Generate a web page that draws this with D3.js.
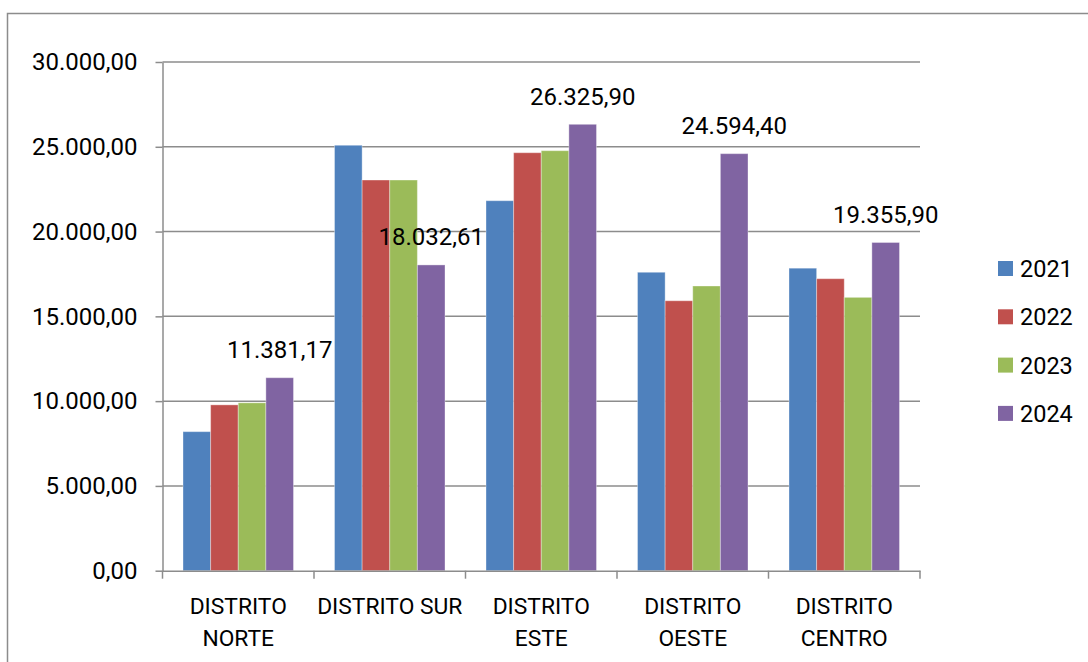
<!DOCTYPE html>
<meta charset="utf-8">
<style>
  body { margin: 0; background: #fff; }
  svg text { font-family: Roboto, 'Noto Sans', sans-serif; fill: #000; }
</style>
<body>
<div id="chart"></div>
<script src="https://d3js.org/d3.v7.min.js"></script>
<script>

// data
var categories = ["DISTRITO NORTE", "DISTRITO SUR", "DISTRITO ESTE", "DISTRITO OESTE", "DISTRITO CENTRO"];
var years = ["2021", "2022", "2023", "2024"];
var v2021 = [8200, 25090, 21820, 17600, 17840];
var v2022 = [9780, 23040, 24650, 15920, 17220];
var v2023 = [9900, 23040, 24770, 16790, 16120];
var v2024 = [11381.17, 18032.61, 26325.90, 24594.40, 19355.90];
var yTicks = [0, 5000, 10000, 15000, 20000, 25000, 30000];
var colors = ["#4F81BD", "#C0504D", "#9BBB59", "#8064A2"];

var series = [v2021, v2022, v2023, v2024];

var W = 1088, H = 662;
// plot area (window.top is reserved, so use other names)
var pLeft = 162.5, pRight = 920, pTop = 62, pBottom = 570.7;

var svg = d3.select("#chart").append("svg")
    .attr("width", W)
    .attr("height", H);

// outer frame (only left and top edges show in the picture)
svg.append("rect")
    .attr("x", 7.5).attr("y", 13.5)
    .attr("width", W + 20).attr("height", H + 20)
    .attr("fill", "none")
    .attr("stroke", "#8c8c8c")
    .attr("stroke-width", 1.5);

var locale = d3.formatLocale({decimal: ",", thousands: ".", grouping: [3], currency: ["", ""]});
var fmt = locale.format(",.2f");

var x = d3.scaleBand().domain(categories).range([pLeft, pRight]).padding(0);
var x1 = d3.scaleBand().domain(years).range([20.5, x.bandwidth() - 20.5]).padding(0);
var y = d3.scaleLinear().domain([0, 30000]).range([pBottom, pTop]);

// gridlines
svg.append("g").selectAll("line")
    .data(yTicks.filter(function(d) { return d > 0; }))
    .enter().append("line")
      .attr("x1", pLeft).attr("x2", pRight)
      .attr("y1", function(d) { return y(d); })
      .attr("y2", function(d) { return y(d); })
      .attr("stroke", "#8c8c8c")
      .attr("stroke-width", 1.5);

// y axis
var yAxis = d3.axisLeft(y).tickValues(yTicks).tickSize(7).tickSizeOuter(0).tickPadding(18).tickFormat(fmt);
var gy = svg.append("g").attr("transform", "translate(" + pLeft + ",0)").call(yAxis);
gy.select(".domain").attr("stroke", "#8c8c8c").attr("stroke-width", 1.5);
gy.selectAll(".tick line").attr("stroke", "#8c8c8c").attr("stroke-width", 1.5);
gy.selectAll(".tick text").style("font-size", "24px").attr("fill", "#000");

// bars
var groups = svg.append("g").selectAll("g")
    .data(categories)
    .enter().append("g")
      .attr("transform", function(d) { return "translate(" + x(d) + ",0)"; });

groups.selectAll("rect")
    .data(function(c, i) { return years.map(function(yr, j) { return {year: yr, value: series[j][i], j: j}; }); })
    .enter().append("rect")
      .attr("x", function(d) { return x1(d.year); })
      .attr("y", function(d) { return y(d.value); })
      .attr("width", x1.bandwidth())
      .attr("height", function(d) { return pBottom - y(d.value); })
      .attr("fill", function(d) { return colors[d.j]; })
      .attr("stroke", "rgba(255,255,255,0.35)")
      .attr("stroke-width", 1);

// data labels on the 2024 bars
svg.append("g").selectAll("text")
    .data(categories)
    .enter().append("text")
      .attr("x", function(d) { return x(d) + x1("2024") + x1.bandwidth() / 2; })
      .attr("y", function(d, i) { return y(v2024[i]) - 19.5; })
      .attr("text-anchor", "middle")
      .style("font-size", "24px")
      .text(function(d, i) { return fmt(v2024[i]); });

// x axis line and separator ticks
var xAxis = d3.axisBottom(x).tickSize(0).tickSizeOuter(0).tickFormat("");
var gx = svg.append("g").attr("transform", "translate(0," + pBottom + ")").call(xAxis);
gx.select(".domain").attr("stroke", "#8c8c8c").attr("stroke-width", 1.5);
gx.selectAll(".tick").remove();
gx.selectAll("line.sep")
    .data(categories.map(function(c) { return x(c); }).concat([pRight]))
    .enter().append("line")
      .attr("class", "sep")
      .attr("x1", function(d) { return d; }).attr("x2", function(d) { return d; })
      .attr("y1", 0).attr("y2", 8)
      .attr("stroke", "#8c8c8c")
      .attr("stroke-width", 1.5);

// category labels, wrapped when too wide for the band
var labels = gx.selectAll("text.cat")
    .data(categories)
    .enter().append("text")
      .attr("class", "cat")
      .attr("text-anchor", "middle")
      .attr("x", function(d) { return x(d) + x.bandwidth() / 2; })
      .attr("y", 614 - pBottom)
      .style("font-size", "22.8px")
      .text(function(d) { return d; });

labels.each(function(d) {
  var t = d3.select(this);
  if (this.getComputedTextLength() > x.bandwidth()) {
    var cut = d.lastIndexOf(" ");
    var cx = t.attr("x");
    t.text(null);
    t.append("tspan").attr("x", cx).attr("dy", 0).text(d.slice(0, cut));
    t.append("tspan").attr("x", cx).attr("dy", 32).text(d.slice(cut + 1));
  }
});

// legend
var legend = svg.append("g").selectAll("g")
    .data(years)
    .enter().append("g")
      .attr("transform", function(d, i) { return "translate(998," + (261 + i * 48.3) + ")"; });
legend.append("rect")
    .attr("width", 15).attr("height", 15)
    .attr("fill", function(d, i) { return colors[i]; });
legend.append("text")
    .attr("x", 22).attr("y", 16)
    .style("font-size", "23.5px")
    .text(function(d) { return d; });

</script>
</body>
